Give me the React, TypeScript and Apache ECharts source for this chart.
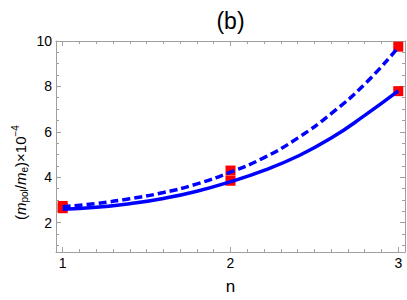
import React, { useEffect, useRef } from "react";
import * as echarts from "echarts";

// Curve samples
const curveN = [1.0, 1.2, 1.4, 1.6, 1.8, 2.0, 2.2, 2.4, 2.6, 2.8, 3.0];
const solidCurve = [2.58, 2.67, 2.83, 3.06, 3.38, 3.8, 4.3, 4.92, 5.72, 6.72, 7.8];
const dashedCurve = [2.7, 2.84, 3.05, 3.32, 3.7, 4.22, 4.86, 5.72, 6.8, 8.1, 9.72];

// Marker points
const pointN = [1, 2, 3];
const solidPoints = [2.63, 3.84, 7.79];
const dashedPoints = [2.73, 4.29, 9.75];

// Ticks
const xMajor = [1, 2, 3];
const yMajor = [2, 4, 6, 8, 10];

const FONT = "'Liberation Sans', Arial, Helvetica, sans-serif";
const FRAME = "#a0a0a0";

function range(a: number, b: number, step: number): number[] {
  const out: number[] = [];
  const n = Math.round((b - a) / step);
  for (let i = 0; i <= n; i++) out.push(+(a + i * step).toFixed(4));
  return out;
}

const xMinor = range(1, 3, 0.1).filter((v) => !xMajor.some((m) => Math.abs(m - v) < 1e-6));
const yMinor = range(1, 10, 0.5).filter((v) => !yMajor.some((m) => Math.abs(m - v) < 1e-6));

const X_MIN = 0.96;
const X_MAX = 3.04;
const Y_MIN = 0.7;
const Y_MAX = 10;

export default function App() {
  const ref = useRef<HTMLDivElement>(null);
  useEffect(() => {
    if (!ref.current) return;
    const chart = echarts.init(ref.current, null, { renderer: "svg" });

    const xBase = (position: string, ticks: number[], len: number, showLine: boolean, labels: boolean) => ({
      type: "value",
      position,
      min: X_MIN,
      max: X_MAX,
      axisLine: { show: showLine, onZero: false, lineStyle: { color: FRAME, width: 1 } },
      axisTick: { show: true, inside: true, length: len, customValues: ticks, lineStyle: { color: FRAME, width: 1 } },
      axisLabel: labels
        ? { show: true, customValues: ticks, color: "#000", fontSize: 14, fontFamily: FONT, margin: 4, formatter: (v: number) => String(Math.round(v)) }
        : { show: false },
      splitLine: { show: false },
    });
    const yBase = (position: string, ticks: number[], len: number, showLine: boolean, labels: boolean) => ({
      type: "value",
      position,
      min: Y_MIN,
      max: Y_MAX,
      axisLine: { show: showLine, onZero: false, lineStyle: { color: FRAME, width: 1 } },
      axisTick: { show: true, inside: true, length: len, customValues: ticks, lineStyle: { color: FRAME, width: 1 } },
      axisLabel: labels
        ? { show: true, customValues: ticks, color: "#000", fontSize: 14, fontFamily: FONT, margin: 4, formatter: (v: number) => String(Math.round(v)) }
        : { show: false },
      splitLine: { show: false },
    });

    const x0: any = xBase("bottom", xMajor, 5, true, true);
    x0.name = "n";
    x0.nameLocation = "middle";
    x0.nameGap = 26;
    x0.nameTextStyle = { color: "#000", fontSize: 17, fontFamily: FONT };

    const option: any = {
      animation: false,
      backgroundColor: "#ffffff",
      grid: { left: 56, right: 2, top: 41, bottom: 43, containLabel: false },
      graphic: [
        {
          type: "text",
          x: 230.5,
          y: 21,
          style: { text: "(b)", fontSize: 23, fontFamily: FONT, fill: "#000", textAlign: "center", textVerticalAlign: "middle" },
        },
        {
          type: "text",
          x: 20,
          y: 220,
          rotation: Math.PI / 2,
          style: {
            text: "{a|(}{i|m}{sub|pol}{a|/}{i|m}{sub|e}{a|)×10}{sup|−4}",
            textAlign: "left",
            textVerticalAlign: "middle",
            fontFamily: FONT,
            fontSize: 15,
            fill: "#000",
            rich: {
              a: { fontSize: 15, fontFamily: FONT, fill: "#000" },
              i: { fontSize: 15, fontFamily: FONT, fontStyle: "italic", fill: "#000" },
              sub: { fontSize: 10, fontFamily: FONT, fill: "#000", padding: [8, 0, 0, 0] },
              sup: { fontSize: 10, fontFamily: FONT, fill: "#000", padding: [0, 0, 9, 0] },
            },
          },
        },
      ],
      xAxis: [
        x0,
        xBase("bottom", xMinor, 3, false, false),
        xBase("top", xMajor, 5, true, false),
        xBase("top", xMinor, 3, false, false),
      ],
      yAxis: [
        yBase("left", yMajor, 5, true, true),
        yBase("left", yMinor, 3, false, false),
        yBase("right", yMajor, 5, true, false),
        yBase("right", yMinor, 3, false, false),
      ],
      series: [
        {
          type: "scatter",
          xAxisIndex: 0,
          yAxisIndex: 0,
          data: pointN.map((n, i) => [n, solidPoints[i]]),
          symbol: "rect",
          symbolSize: 10,
          itemStyle: { color: "#ff0000", opacity: 1 },
          z: 2,
        },
        {
          type: "scatter",
          xAxisIndex: 0,
          yAxisIndex: 0,
          data: pointN.map((n, i) => [n, dashedPoints[i]]),
          symbol: "rect",
          symbolSize: 10,
          itemStyle: { color: "#ff0000", opacity: 1 },
          z: 2,
        },
        {
          type: "line",
          xAxisIndex: 0,
          yAxisIndex: 0,
          data: curveN.map((n, i) => [n, solidCurve[i]]),
          smooth: 0.5,
          showSymbol: false,
          symbol: "none",
          lineStyle: { color: "#0000ff", width: 3.5 },
          z: 3,
        },
        {
          type: "line",
          xAxisIndex: 0,
          yAxisIndex: 0,
          data: curveN.map((n, i) => [n, dashedCurve[i]]),
          smooth: 0.5,
          showSymbol: false,
          symbol: "none",
          lineStyle: { color: "#0000ff", width: 3.5, type: [8, 4] },
          z: 3,
        },
      ],
    };
    chart.setOption(option);
    return () => chart.dispose();
  }, []);

  return (
    <div
      ref={ref}
      style={{ position: "fixed", left: 0, top: 0, width: 407, height: 300, background: "#fff" }}
    />
  );
}
